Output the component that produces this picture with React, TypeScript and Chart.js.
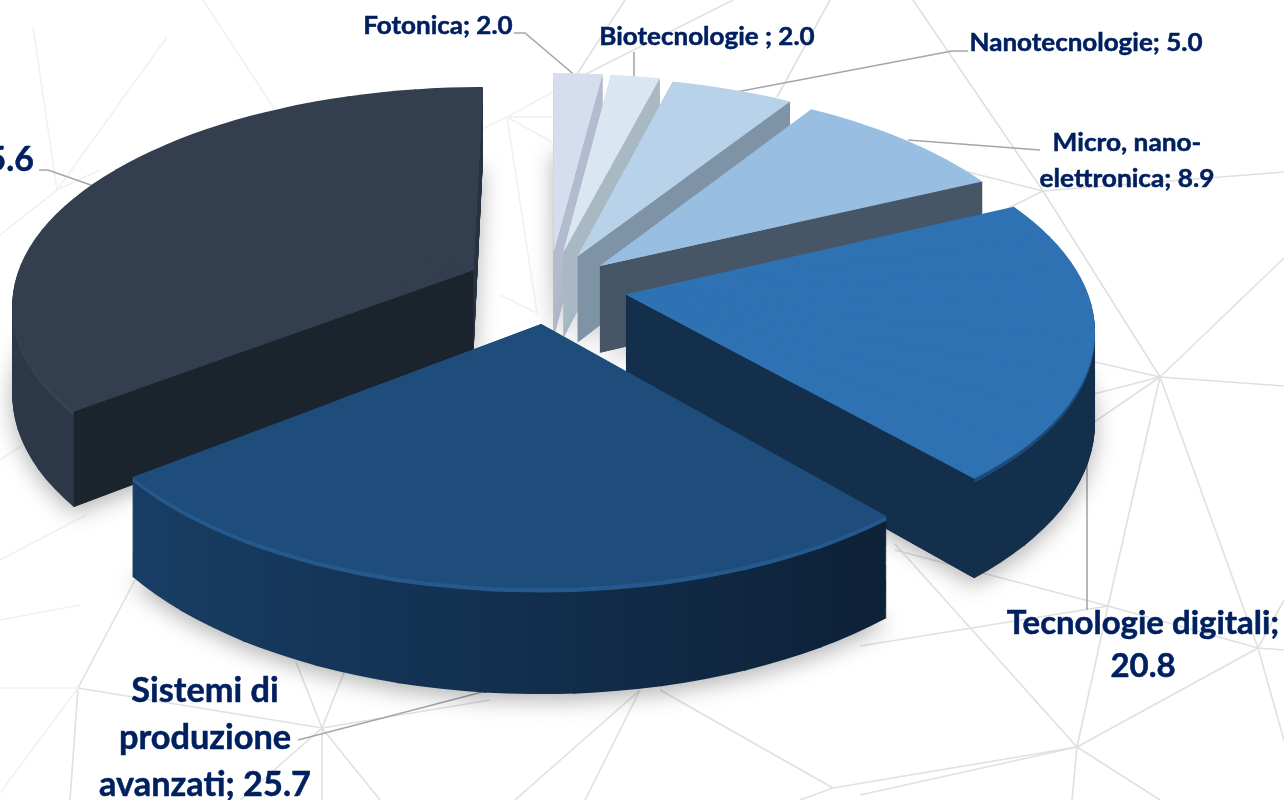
import React, { useEffect, useRef } from "react";
import { Chart, registerables } from "chart.js";

Chart.register(...registerables);

const categories = ["Fotonica", "Biotecnologie", "Nanotecnologie", "Micro, nano-elettronica", "Tecnologie digitali", "Sistemi di produzione avanzati", "Materiali avanzati"];
const shares = [2.0, 2.0, 5.0, 8.9, 20.8, 25.7, 35.6];

const topColors = ["#d6ddee", "#dbe6f3", "#b7d2e9", "#98bee2", "#2e72b4", "#1e4d7b", "#333f4f"];
const faceColors = ["#b3bccf", "#a9b9c3", "#7f93a6", "#465667", "#142f4c", "#142f4c", "#1b242c"];
const wallLeft = ["#b3bccf", "#a9b9c3", "#7f93a6", "#465667", "#142f4c", "#1a426c", "#2d3949"];
const wallRight = ["#b3bccf", "#a9b9c3", "#7f93a6", "#465667", "#142f4c", "#0b1c2f", "#222c39"];
const rimColors = ["#c3cbdc", "#bccad5", "#8ea2b5", "#4f6073", "#1e4a78", "#265a8e", "#384454"];
const faceEdge = ["end", "end", "end", "end", "end", "none", "start"];
const drawOrder = [0, 1, 2, 3, 6, 4, 5];
const explodeBySlice = [0.17, 0.17, 0.16, 0.15, 0.17, 0.17, 0.185];

// camera of the 3D view
const CAM = { cx: 549, cy: 287, a: 460, b: 214, p: 0.145, depth: 88 };

const labelLines = [
  { lines: ["Fotonica; 2.0"], x: 438, ys: [26], size: 25, sx: 1.04, align: "center" },
  { lines: ["Biotecnologie ; 2.0"], x: 707, ys: [37], size: 25, sx: 1.04, align: "center" },
  { lines: ["Nanotecnologie; 5.0"], x: 1086, ys: [43], size: 25, sx: 1.04, align: "center" },
  { lines: ["Micro, nano-", "elettronica; 8.9"], x: 1127, ys: [143, 179], size: 25, sx: 1.05, align: "center" },
  { lines: ["Tecnologie digitali;", "20.8"], x: 1143, ys: [624, 667], size: 32, sx: 1.03, align: "center" },
  { lines: ["Sistemi di", "produzione", "avanzati; 25.7"], x: 205, ys: [691, 738, 785], size: 35, sx: 0.98, align: "center" },
  { lines: ["Materiali avanzati; 35.6"], x: 34, ys: [160], size: 34, sx: 1, align: "right" },
];

const leaders = [
  [[514, 33], [525, 33], [578, 78]],
  [[634, 52], [634, 82]],
  [[968, 51], [952, 51], [731, 93]],
  [[1040, 150], [908, 140]],
  [[1087, 610], [1087, 420]],
  [[298, 740], [490, 690]],
  [[39, 170], [48, 170], [105, 190]],
];

const mesh = [
  [[1160, 377], [1043, 191]], [[1160, 377], [1284, 258]], [[1160, 377], [1284, 386]], [[1160, 377], [1095, 362]],
  [[1160, 377], [1090, 395]], [[1160, 377], [1090, 425]], [[1160, 377], [1108, 606]], [[1160, 377], [1258, 648]],
  [[1108, 606], [1077, 747]], [[1077, 747], [1258, 648]], [[1077, 747], [860, 795]], [[1077, 747], [895, 544]],
  [[1077, 747], [1072, 800]], [[1077, 747], [1160, 800]], [[1108, 606], [1258, 648]], [[1258, 648], [1284, 600]],
  [[1258, 648], [1284, 650]], [[1258, 648], [1284, 740]], [[860, 646], [1108, 606]], [[895, 550], [1108, 606]],
  [[580, 77], [733, 0]], [[570, 85], [625, 0]], [[777, 97], [830, 0]], [[913, 0], [1043, 191]], [[1043, 191], [1284, 172]],
  [[1043, 191], [980, 222]], [[1043, 191], [960, 170]],
  [[78, 688], [322, 728]], [[322, 728], [296, 662]], [[78, 688], [135, 580]],
  [[78, 688], [70, 800]], [[322, 728], [345, 670]], [[322, 728], [322, 800]], [[322, 728], [380, 800]], [[322, 728], [240, 800]],
  [[322, 728], [490, 700]], [[640, 690], [515, 800]], [[640, 690], [585, 800]], [[660, 690], [833, 788]],
  [[833, 788], [800, 800]], [[833, 788], [1077, 747]],
];
const meshFaint = [
  [[507, 117], [580, 77]], [[507, 117], [555, 117]], [[507, 117], [552, 142]], [[507, 117], [537, 313]], [[500, 295], [537, 313]],
  [[507, 117], [480, 130]], [[203, 0], [277, 113]], [[167, 37], [57, 190]], [[33, 27], [57, 190]], [[0, 235], [57, 190]],
  [[57, 190], [100, 170]], [[0, 688], [78, 688]], [[78, 688], [0, 793]], [[0, 560], [86, 515]], [[0, 460], [30, 440]], [[0, 620], [80, 605]],
];

type Pt = { x: number; y: number };
const SUB_STEP = Math.PI / 18;
const OVERLAP = 0.004;

function project(wx: number, wy: number, arc: any, t: number): Pt {
  const X = (wx - arc.x) / arc.outerRadius;
  const Y = (wy - arc.y) / arc.outerRadius;
  const S = 1 / (1 - Y * CAM.p);
  return { x: CAM.cx + X * CAM.a * S, y: CAM.cy + Y * CAM.b * S + t * CAM.depth * S };
}

function pullOut(arc: any, i: number) {
  const mid = (arc.startAngle + arc.endAngle) / 2;
  const off = explodeBySlice[i] * arc.outerRadius;
  return { x: Math.cos(mid) * off, y: Math.sin(mid) * off };
}

function rimPoint(arc: any, o: Pt, ang: number): Pt {
  return {
    x: arc.x + o.x + Math.cos(ang) * arc.outerRadius,
    y: arc.y + o.y + Math.sin(ang) * arc.outerRadius,
  };
}

// A sub-sector [a0, a1] of the arc gets its own affine map so the whole slice follows the perspective
function applySectorTransform(ctx: CanvasRenderingContext2D, arc: any, o: Pt, a0: number, a1: number, t: number) {
  const r = arc.outerRadius;
  const A = project(arc.x + o.x, arc.y + o.y, arc, t);
  const pb = rimPoint(arc, o, a0);
  const pc = rimPoint(arc, o, a1);
  const B = project(pb.x, pb.y, arc, t);
  const C = project(pc.x, pc.y, arc, t);
  const ux = Math.cos(a0) * r, uy = Math.sin(a0) * r;
  const vx = Math.cos(a1) * r, vy = Math.sin(a1) * r;
  const det = ux * vy - vx * uy;
  const dux = B.x - A.x, duy = B.y - A.y, dvx = C.x - A.x, dvy = C.y - A.y;
  const a = (dux * vy - dvx * uy) / det;
  const c = (dvx * ux - dux * vx) / det;
  const b = (duy * vy - dvy * uy) / det;
  const d = (dvy * ux - duy * vx) / det;
  ctx.setTransform(a, b, c, d, A.x - a * arc.x - c * arc.y, A.y - b * arc.x - d * arc.y);
}

function drawSlice(ctx: CanvasRenderingContext2D, arc: any, o: Pt, start: number, end: number, t: number, fill: any, underpaint: boolean) {
  const saved = { options: arc.options, startAngle: start, endAngle: end, circumference: arc.circumference };
  arc.options = Object.assign({}, saved.options, { backgroundColor: fill, borderWidth: 0 });
  if (underpaint) {
    // a half-radius whole-slice pass beneath the sub-sectors closes the hairlines where they meet at the apex
    applySectorTransform(ctx, arc, o, start, end, t);
    const fullRadius = arc.outerRadius;
    arc.outerRadius = fullRadius * 0.5;
    arc.draw(ctx);
    arc.outerRadius = fullRadius;
  }
  const n = Math.max(1, Math.ceil((end - start) / SUB_STEP));
  const step = (end - start) / n;
  for (let j = 0; j < n; j++) {
    const a0 = start + j * step;
    const a1 = a0 + step;
    applySectorTransform(ctx, arc, o, a0, a1, t);
    arc.startAngle = a0;
    arc.endAngle = j === n - 1 ? a1 : a1 + OVERLAP;
    arc.circumference = arc.endAngle - arc.startAngle;
    arc.draw(ctx);
  }
  arc.options = saved.options;
  arc.startAngle = saved.startAngle;
  arc.endAngle = saved.endAngle;
  arc.circumference = saved.circumference;
}

function strokeSegments(ctx: CanvasRenderingContext2D, paths: number[][][]) {
  for (const path of paths) {
    ctx.beginPath();
    path.forEach((p, n) => (n ? ctx.lineTo(p[0], p[1]) : ctx.moveTo(p[0], p[1])));
    ctx.stroke();
  }
}

const pie3d = {
  id: "pie3d",
  beforeDraw(chart: any) {
    const ctx = chart.ctx;
    ctx.save();
    ctx.fillStyle = "#ffffff";
    ctx.fillRect(0, 0, chart.width, chart.height);
    ctx.lineWidth = 1.6;
    ctx.strokeStyle = "#e0e0e0";
    strokeSegments(ctx, mesh);
    ctx.strokeStyle = "#f1f1f1";
    strokeSegments(ctx, meshFaint);
    ctx.strokeStyle = "#a6a6a6";
    strokeSegments(ctx, leaders);
    ctx.restore();
  },
  beforeDatasetsDraw(chart: any) {
    const ctx = chart.ctx;
    const arcs = chart.getDatasetMeta(0).data;
    const layers = 100;
    const bevel = 4;
    for (const i of drawOrder) {
      const arc = arcs[i];
      const r = arc.outerRadius;
      const o = pullOut(arc, i);
      const start = arc.startAngle;
      const end = arc.endAngle;
      const grad = ctx.createLinearGradient(arc.x - r, 0, arc.x + r * 0.9, 0);
      grad.addColorStop(0, wallLeft[i]);
      grad.addColorStop(1, wallRight[i]);
      ctx.save();
      // soft shadow on the ground, from the lowest layer
      ctx.shadowColor = "rgba(0,0,0,0.30)";
      ctx.shadowBlur = 22;
      ctx.shadowOffsetY = 6;
      drawSlice(ctx, arc, o, start, end, 1, grad, false);
      ctx.shadowColor = "transparent";
      ctx.shadowBlur = 0;
      ctx.shadowOffsetY = 0;
      for (let k = layers - 1; k >= 1; k--) {
        drawSlice(ctx, arc, o, start, end, k / layers, k <= bevel ? rimColors[i] : grad, false);
      }
      ctx.setTransform(1, 0, 0, 1, 0, 0);
      // cut face along the slice's visible straight edge
      if (faceEdge[i] !== "none") {
        const apex = { x: arc.x + o.x, y: arc.y + o.y };
        const rim = rimPoint(arc, o, faceEdge[i] === "end" ? end : start);
        const p1 = project(apex.x, apex.y, arc, 0);
        const p2 = project(rim.x, rim.y, arc, 0);
        const p3 = project(rim.x, rim.y, arc, 1);
        const p4 = project(apex.x, apex.y, arc, 1);
        ctx.fillStyle = faceColors[i];
        ctx.beginPath();
        ctx.moveTo(p1.x, p1.y);
        ctx.lineTo(p2.x, p2.y);
        ctx.lineTo(p3.x, p3.y);
        ctx.lineTo(p4.x, p4.y);
        ctx.closePath();
        ctx.fill();
      }
      drawSlice(ctx, arc, o, start, end, 0, topColors[i], true);
      ctx.restore();
    }
    return false;
  },
  afterDraw(chart: any) {
    const ctx = chart.ctx;
    ctx.save();
    ctx.setTransform(1, 0, 0, 1, 0, 0);
    ctx.fillStyle = "#002060";
    ctx.strokeStyle = "#002060";
    ctx.lineWidth = 0.5;
    ctx.textBaseline = "middle";
    for (const lab of labelLines) {
      ctx.font = `bold ${lab.size}px Lato, "Open Sans", sans-serif`;
      ctx.textAlign = lab.align as CanvasTextAlign;
      lab.lines.forEach((line, n) => {
        ctx.save();
        ctx.translate(lab.x, lab.ys[n]);
        ctx.scale(lab.sx, 1);
        ctx.fillText(line, 0, 0);
        ctx.strokeText(line, 0, 0);
        ctx.restore();
      });
    }
    ctx.restore();
  },
};

export default function App() {
  const ref = useRef<HTMLCanvasElement>(null);
  useEffect(() => {
    document.body.style.margin = "0";
    document.body.style.overflow = "hidden";
    const chart = new Chart(ref.current!, {
      type: "pie",
      data: {
        labels: categories,
        datasets: [{ data: shares, backgroundColor: topColors, borderWidth: 0 }],
      },
      options: {
        responsive: false,
        animation: false,
        rotation: 0,
        layout: { padding: 0 },
        plugins: { legend: { display: false }, tooltip: { enabled: false } },
      },
      plugins: [pie3d],
    } as any);
    return () => chart.destroy();
  }, []);
  return <canvas ref={ref} width={1284} height={800} style={{ display: "block" }} />;
}
